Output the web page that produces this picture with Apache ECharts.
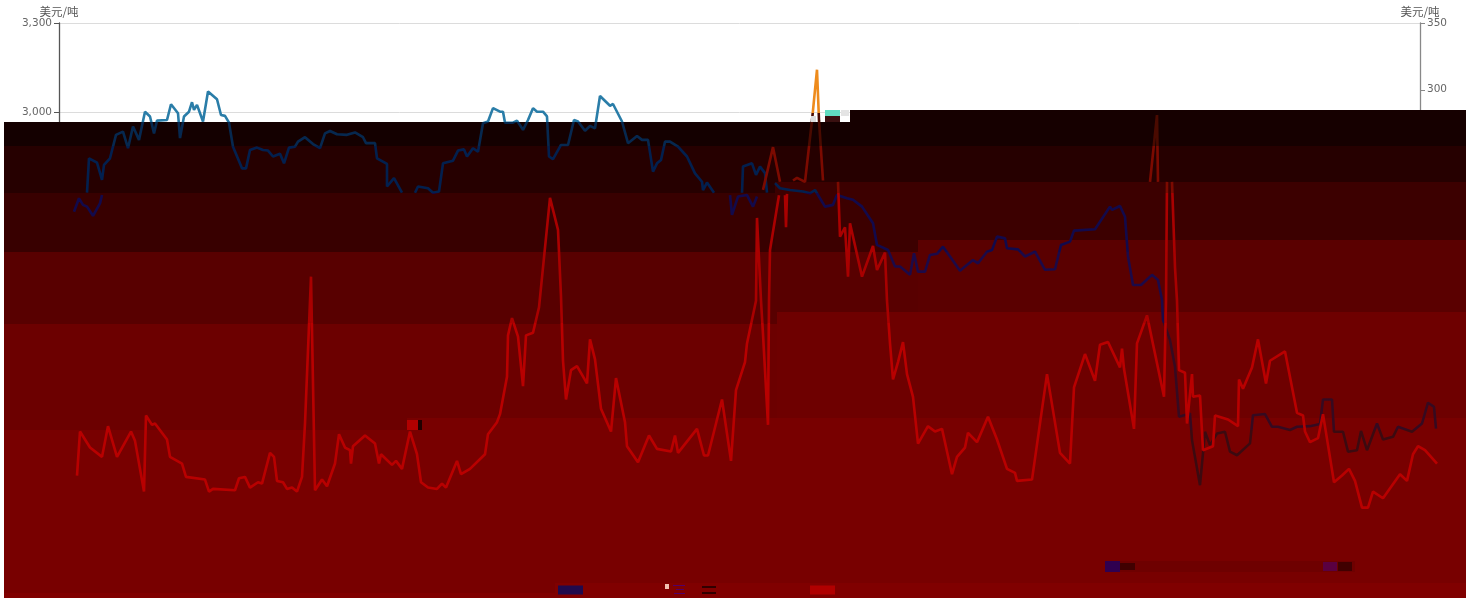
<!DOCTYPE html>
<html><head><meta charset="utf-8">
<style>html,body{margin:0;padding:0;background:#fff}#c{width:1475px;height:601px}</style>
<script src="https://cdn.jsdelivr.net/npm/echarts@6/dist/echarts.min.js"></script>
</head><body><div id="c"></div>
<script>
const seriesNames = ['左轴', '右轴'];
const unit = '美元/吨';
const leftTicks = { min: 1500, max: 3300, interval: 300 };
const rightTicks = { min: -50, max: 350, interval: 50 };
// [day offset, USD/t]; null marks a tear in the picture
const priceLeft = [[15,2664],[20,2709],[24,2687],[28,2681],[34,2650],[41,2692],[43,2720],[43,null],
[28,2728],[30,2844],[38,2829],[43,2771],[45,2822],[51,2844],[57,2923],[64,2934],[69,2878],[74,2951],[80,2906],[86,3001],[91,2985],[95,2928],[98,2971],[108,2973],[112,3026],[119,2996],[121,2912],[125,2985],[130,3001],[133,3033],[135,3007],[138,3024],[144,2968],[149,3069],[158,3043],[159,3046],[162,2990],[166,2987],[170,2964],[174,2883],[183,2810],[187,2810],[191,2872],[198,2880],[204,2872],[209,2870],[214,2850],[221,2859],[225,2827],[230,2880],[236,2883],[239,2900],[246,2915],[254,2892],[261,2878],[266,2928],[271,2936],[278,2925],[288,2923],[296,2931],[304,2915],[307,2895],[316,2895],[318,2844],[328,2825],[328,2749],[335,2777],[343,2728],[343,null],
[356,2728],[359,2749],[369,2743],[374,2728],[380,2732],[384,2827],[394,2836],[399,2870],[405,2874],[408,2850],[414,2878],[419,2866],[424,2962],[429,2968],[434,3013],[441,3001],[444,3001],[446,2964],[454,2964],[458,2971],[464,2940],[469,2973],[474,3013],[478,3001],[484,3001],[488,2985],[490,2850],[494,2841],[502,2889],[509,2889],[515,2973],[519,2968],[526,2937],[531,2953],[536,2945],[541,3054],[551,3021],[554,3027],[563,2968],[569,2895],[578,2919],[583,2906],[589,2906],[594,2799],[598,2827],[602,2838],[606,2900],[611,2900],[619,2883],[628,2850],[636,2793],[643,2765],[644,2737],[648,2762],[655,2728],[655,null],
[671,2720],[673,2653],[679,2715],[688,2720],[694,2681],[698,2715],[698,null],
[683,2728],[684,2816],[693,2827],[697,2788],[701,2816],[706,2794],[708,2728],[708,null],
[716,2760],[721,2743],[731,2737],[744,2732],[751,2726],[756,2737],[766,2681],[774,2687],[778,2720],[788,2709],[794,2704],[803,2681],[814,2625],[818,2552],[829,2535],[836,2479],[841,2479],[851,2451],[855,2524],[859,2462],[866,2462],[871,2518],[878,2522],[884,2546],[891,2513],[901,2465],[906,2479],[914,2501],[919,2490],[928,2529],[933,2535],[938,2580],[946,2574],[948,2541],[959,2537],[966,2513],[976,2529],[986,2468],[996,2470],[1002,2552],[1011,2563],[1015,2600],[1036,2605],[1051,2681],[1053,2670],[1061,2683],[1066,2647],[1069,2513],[1074,2417],[1082,2417],[1093,2451],[1099,2434],[1103,2366],[1104,2299],[1111,2231],[1116,2141],[1120,1973],[1131,1984],[1133,1894],[1141,1742],[1146,1922],[1151,1877],[1158,1916],[1166,1922],[1171,1855],[1178,1843],[1191,1883],[1194,1978],[1206,1982],[1213,1939],[1219,1939],[1231,1928],[1238,1939],[1251,1941],[1261,1948],[1264,2031],[1273,2031],[1275,1922],[1284,1922],[1289,1855],[1298,1860],[1302,1925],[1308,1860],[1318,1950],[1324,1896],[1334,1905],[1339,1939],[1353,1922],[1363,1950],[1369,2020],[1375,2006],[1377,1933]];
const priceRight = [[18,11],[21,44],[31,32],[43,25],[49,48],[58,25],[72,44],[76,37],[85,-1],[87,56],[93,49],[96,50],[108,38],[111,25],[123,20],[127,10],[146,8],[150,-1],[154,1],[176,0],[180,9],[186,10],[191,2],[199,6],[203,5],[211,28],[215,25],[218,7],[224,6],[228,1],[233,2],[238,-1],[243,10],[246,50],[252,160],[256,0],[263,8],[268,3],[276,20],[280,42],[286,32],[291,30],[292,20],[294,33],[306,41],[316,35],[320,20],[322,27],[333,19],[337,22],[343,16],[351,44],[358,27],[362,6],[369,2],[378,1],[383,5],[387,2],[398,22],[402,12],[411,16],[426,27],[429,42],[438,51],[441,57],[448,85],[449,116],[453,129],[459,115],[464,78],[467,116],[474,118],[480,137],[491,219],[499,195],[502,145],[504,97],[507,68],[512,90],[518,93],[528,80],[531,113],[536,98],[542,61],[552,44],[557,84],[566,51],[568,33],[579,21],[590,41],[598,31],[612,29],[616,41],[619,28],[638,46],[645,26],[649,26],[663,68],[672,22],[677,75],[686,96],[688,110],[697,142],[698,204],[702,142],[704,117],[709,49],[710,142],[711,180],[720,221],[720,null],
[704,225],[714,257],[721,231],[721,null],
[726,221],[727,197],[728,222],[728,null],
[734,232],[738,234],[746,231],[753,277],[758,315],[760,277],[764,232],[764,null],
[779,231],[781,190],[786,197],[789,160],[791,200],[803,160],[814,183],[818,165],[826,178],[828,142],[831,110],[834,83],[839,96],[844,111],[848,87],[854,70],[859,35],[869,48],[876,44],[883,46],[893,12],[898,25],[906,32],[909,43],[918,36],[929,55],[938,38],[948,16],[956,13],[958,7],[973,8],[988,87],[1001,28],[1011,20],[1015,77],[1026,102],[1036,82],[1041,109],[1049,111],[1061,92],[1063,106],[1065,91],[1075,46],[1078,110],[1088,131],[1105,70],[1107,142],[1108,231],[1108,null],
[1091,231],[1098,281],[1099,231],[1099,null],
[1113,231],[1116,167],[1118,142],[1120,90],[1126,88],[1128,50],[1133,87],[1134,70],[1141,71],[1144,30],[1154,33],[1156,56],[1169,53],[1179,48],[1180,83],[1184,76],[1193,92],[1199,113],[1207,80],[1211,97],[1226,104],[1238,58],[1244,56],[1246,44],[1251,36],[1259,39],[1264,57],[1275,6],[1283,11],[1290,16],[1296,7],[1303,-13],[1309,-13],[1314,-1],[1324,-6],[1341,12],[1348,7],[1354,27],[1359,33],[1366,30],[1378,20]];

const rect = (x, y, w, h, fill, z) => ({ type: 'rect', z, silent: true, shape: { x, y, width: w, height: h }, style: { fill } });
const under = 5, over = 30;
const overlay = [
  rect(4,122,846,476,'#140000',under), rect(850,110,616,488,'#160000',under),
  rect(4,146,1462,452,'#260000',under),
  rect(4,193,771,405,'#380000',under), rect(775,182,691,416,'#3c0000',under),
  rect(4,252,914,346,'#580000',under), rect(918,240,548,358,'#5a0000',under),
  rect(4,324,773,274,'#6c0000',under), rect(777,312,689,286,'#6e0000',under),
  rect(4,430,403,168,'#780000',under), rect(407,418,1059,180,'#780000',under),
  rect(4,593,551,5,'#800000',under), rect(555,583,911,15,'#800000',under),
  rect(1105,561,250,11,'#6e0000',under),
  rect(407,420,11,10,'#b00000',over), rect(418,420,4,10,'#200000',over),
  rect(825,110,15,6,'#60dcc0',over), rect(841,110,8,6,'#e4e4e4',over), rect(825,116,15,6,'#3a1010',over),
  rect(811,116,5,6,'#dddddd',over),
  rect(1105,561,15,11,'#300050',over), rect(1120,563,15,7,'#400000',over),
  rect(1323,562,14,9,'#5a0040',over), rect(1338,562,14,9,'#400000',over),
  rect(665,584,4,5,'#f0c0b0',over), rect(673,585,12,1,'#50006a',over), rect(676,589,8,1,'#50006a',over), rect(674,593,11,1,'#50006a',over),
  rect(702,586,14,2,'#300000',over), rect(702,592,14,2,'#300000',over)
];

const stops = list => {
  const out = [];
  list.forEach(([from, to, c]) => { out.push({ offset: from / 601, color: c }, { offset: to / 601, color: c }); });
  return out;
};
const blueLine = new echarts.graphic.LinearGradient(0, 0, 0, 601, stops([
  [0,122,'#2a7da8'],[122,146,'#06284f'],[146,193,'#02204f'],[193,252,'#120a4c'],[252,323,'#1c0a48'],[323,430,'#360a20'],[430,601,'#3c0a10']
]), true);
const orangeLine = new echarts.graphic.LinearGradient(0, 0, 0, 601, stops([
  [0,113,'#ee8b1c'],[113,146,'#4a0a00'],[146,193,'#7c0a00'],[193,252,'#aa0000'],[252,323,'#a80000'],[323,601,'#b80000']
]), true);

const axisCommon = color => ({
  nameLocation: 'end', nameGap: 5,
  nameTextStyle: { color: '#555', fontSize: 11.5, fontFamily: 'Noto Sans CJK SC' },
  axisLine: { show: true, lineStyle: { color, width: 1.3 } },
  axisTick: { show: true, length: 5, lineStyle: { color } },
  axisLabel: { color: '#666', fontSize: 10.5, fontFamily: 'DejaVu Sans', margin: 7,
    formatter: v => v.toLocaleString('en-US') }
});
const hiddenY = t => ({ type: 'value', gridIndex: 1, min: t.min, max: t.max, interval: t.interval, show: false });

const chart = echarts.init(document.getElementById('c'), null, { renderer: 'canvas' });
chart.setOption({
  animation: false,
  backgroundColor: '#fff',
  grid: [
    { left: 59, right: 55, top: 23, bottom: 44 },
    { left: 59, right: 39, top: 23, bottom: 44 }
  ],
  legend: {
    z: 20, left: 558, top: 584, itemWidth: 25, itemHeight: 9, itemGap: 198, padding: 0,
    textStyle: { color: '#800000', fontSize: 12 },
    data: [
      { name: seriesNames[0], icon: 'rect', itemStyle: { color: '#200a4c' } },
      { name: seriesNames[1], icon: 'rect', itemStyle: { color: '#b00000' } }
    ]
  },
  xAxis: [
    { type: 'value', gridIndex: 0, min: 0, max: 1361, show: false },
    { type: 'value', gridIndex: 1, min: 0, max: 1377, show: false }
  ],
  yAxis: [
    Object.assign({ type: 'value', gridIndex: 0, position: 'left', name: unit }, leftTicks, axisCommon('#555'),
      { splitLine: { show: true, lineStyle: { color: '#dcdcdc' } } }),
    Object.assign({ type: 'value', gridIndex: 0, position: 'right', name: unit }, rightTicks, axisCommon('#888'),
      { splitLine: { show: false } }),
    hiddenY(leftTicks), hiddenY(rightTicks)
  ],
  graphic: { elements: overlay },
  series: [
    { name: seriesNames[0], type: 'line', xAxisIndex: 1, yAxisIndex: 2, z: 10, data: priceLeft,
      showSymbol: false, clip: false, lineStyle: { width: 2.6, color: blueLine }, itemStyle: { color: '#200a4c' } },
    { name: seriesNames[1], type: 'line', xAxisIndex: 1, yAxisIndex: 3, z: 10, data: priceRight,
      showSymbol: false, clip: false, lineStyle: { width: 2.6, color: orangeLine }, itemStyle: { color: '#b00000' } }
  ]
});
</script></body></html>
